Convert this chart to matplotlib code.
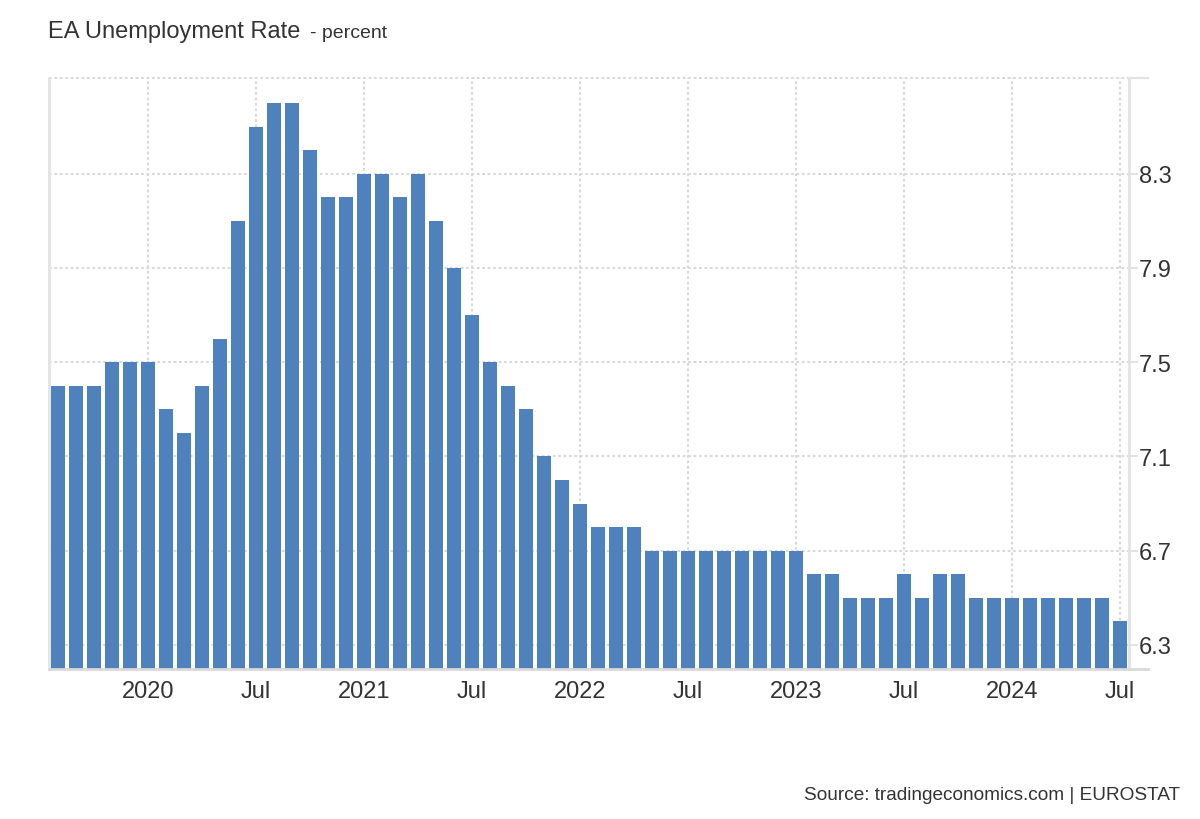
import matplotlib.pyplot as plt
import matplotlib.lines as mlines

plt.rcParams['font.family'] = ['Liberation Sans', 'DejaVu Sans']

# monthly values, Aug 2019 .. Jul 2024
months = ['2019-08', '2019-09', '2019-10', '2019-11', '2019-12',
          '2020-01', '2020-02', '2020-03', '2020-04', '2020-05', '2020-06',
          '2020-07', '2020-08', '2020-09', '2020-10', '2020-11', '2020-12',
          '2021-01', '2021-02', '2021-03', '2021-04', '2021-05', '2021-06',
          '2021-07', '2021-08', '2021-09', '2021-10', '2021-11', '2021-12',
          '2022-01', '2022-02', '2022-03', '2022-04', '2022-05', '2022-06',
          '2022-07', '2022-08', '2022-09', '2022-10', '2022-11', '2022-12',
          '2023-01', '2023-02', '2023-03', '2023-04', '2023-05', '2023-06',
          '2023-07', '2023-08', '2023-09', '2023-10', '2023-11', '2023-12',
          '2024-01', '2024-02', '2024-03', '2024-04', '2024-05', '2024-06',
          '2024-07']
rate = [7.4, 7.4, 7.4, 7.5, 7.5,
        7.5, 7.3, 7.2, 7.4, 7.6, 8.1, 8.5, 8.6, 8.6, 8.4, 8.2, 8.2,
        8.3, 8.3, 8.2, 8.3, 8.1, 7.9, 7.7, 7.5, 7.4, 7.3, 7.1, 7.0,
        6.9, 6.8, 6.8, 6.8, 6.7, 6.7, 6.7, 6.7, 6.7, 6.7, 6.7, 6.7,
        6.7, 6.6, 6.6, 6.5, 6.5, 6.5, 6.6, 6.5, 6.6, 6.6, 6.5, 6.5,
        6.5, 6.5, 6.5, 6.5, 6.5, 6.5, 6.4]

tick_months = ['2020-01', '2020-07', '2021-01', '2021-07', '2022-01',
               '2022-07', '2023-01', '2023-07', '2024-01', '2024-07']
tick_labels = ['2020', 'Jul', '2021', 'Jul', '2022', 'Jul', '2023', 'Jul', '2024', 'Jul']
y_ticks = [6.3, 6.7, 7.1, 7.5, 7.9, 8.3]

txt = '#333333'
grid_c = '#d9d9d9'
dots = (0, (1.3, 1.3))

fig = plt.figure(figsize=(12, 8.2), dpi=100)
ax = fig.add_axes([49 / 1200, 1 - 670 / 820, 1080 / 1200, 591 / 820])

x = list(range(len(months)))
ax.bar(x, rate, width=0.78, color='#4f81bd', zorder=3)

ax.set_xlim(-0.5, len(months) - 0.5)
ax.set_ylim(6.198, 8.706)

xt = [months.index(m) for m in tick_months]
ax.set_xticks(xt)
ax.set_xticklabels(tick_labels, fontsize=17, color=txt)
ax.tick_params(axis='x', length=0, pad=8)

ax.yaxis.tick_right()
ax.set_yticks(y_ticks)
ax.set_yticklabels([f'{v:.1f}' for v in y_ticks], fontsize=17, color=txt)
ax.tick_params(axis='y', length=6.5, width=1.2, color='#dddddd', pad=0.5)

ax.grid(True, linestyle=dots, color=grid_c, linewidth=1.5, zorder=0)
ax.axhline(8.706, linestyle=dots, color=grid_c, linewidth=1.5, zorder=0, clip_on=False)

ax.spines['top'].set_visible(False)
ax.spines['bottom'].set_visible(False)
ax.spines['left'].set_color('#e3e3e3')
ax.spines['left'].set_linewidth(2)
ax.spines['right'].set_color('#e3e3e3')
ax.spines['right'].set_linewidth(2)

# bottom line runs past the right axis, top gets a short solid tick
ax.add_line(mlines.Line2D([0, 1 + 19 / 1080], [0, 0], transform=ax.transAxes,
                          color='#d9d9d9', linewidth=2, clip_on=False, zorder=4))
ax.add_line(mlines.Line2D([1, 1 + 19 / 1080], [1, 1], transform=ax.transAxes,
                          color='#e3e3e3', linewidth=1.5, clip_on=False, zorder=4))

fig.text(48 / 1200, 1 - 32 / 820, 'EA Unemployment Rate', fontsize=17, color=txt,
         va='center', ha='left')
fig.text(310 / 1200, 1 - 33 / 820, '- percent', fontsize=14, color=txt,
         va='center', ha='left')
fig.text(1180 / 1200, 1 - 796 / 820, 'Source: tradingeconomics.com | EUROSTAT',
         fontsize=13.7, color=txt, va='center', ha='right')

fig.savefig('out.png', dpi=100)
